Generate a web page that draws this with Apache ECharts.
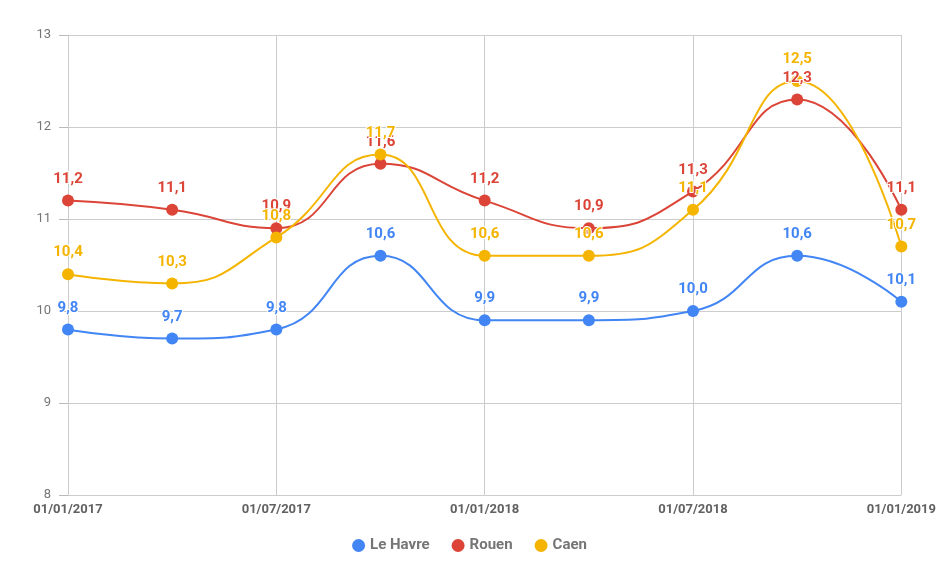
<!DOCTYPE html>
<html>
<head>
<meta charset="utf-8">
<style>html,body{margin:0;padding:0;background:#fff;}#c{width:939px;height:577px;}</style>
<script src="https://cdn.jsdelivr.net/npm/echarts@6/dist/echarts.min.js"></script>
</head>
<body>
<div id="c"></div>
<script>
var categories = ['01/01/2017','01/04/2017','01/07/2017','01/10/2017','01/01/2018','01/04/2018','01/07/2018','01/10/2018','01/01/2019'];
var leHavre = [9.8, 9.7, 9.8, 10.6, 9.9, 9.9, 10.0, 10.6, 10.1];
var rouen = [11.2, 11.1, 10.9, 11.6, 11.2, 10.9, 11.3, 12.3, 11.1];
var caen = [10.4, 10.3, 10.8, 11.7, 10.6, 10.6, 11.1, 12.5, 10.7];
var yTicks = [8, 9, 10, 11, 12, 13];

var chart = echarts.init(document.getElementById('c'));
function mk(name, data, color) {
  return {
    name: name, type: 'line', data: data, smooth: 0.5,
    symbol: 'circle', symbolSize: 12,
    lineStyle: {width: 2, color: color},
    itemStyle: {color: color},
    label: {
      show: true, position: 'top', distance: 8,
      color: color, fontFamily: 'Roboto', fontSize: 15, fontWeight: 'bold',
      textBorderColor: '#fff', textBorderWidth: 2,
      formatter: function (p) { return p.value.toFixed(1).replace('.', ','); }
    },
    emphasis: {disabled: true}
  };
}
chart.setOption({
  animation: false,
  color: ['#4285F4', '#DB4437', '#F4B400'],
  grid: {left: 68, right: 36, top: 35, bottom: 82, containLabel: false},
  legend: {
    bottom: 19, icon: 'circle', itemWidth: 13, itemHeight: 13, itemGap: 22,
    textStyle: {color: '#757575', fontFamily: 'Roboto', fontSize: 15, fontWeight: 'bold'},
    data: ['Le Havre', 'Rouen', 'Caen']
  },
  xAxis: {
    type: 'category', data: categories, boundaryGap: false,
    axisLine: {show: false}, axisTick: {show: false},
    axisLabel: {interval: 1, color: '#616161', fontFamily: 'Roboto', fontSize: 13, fontWeight: 'bold', margin: 8},
    splitLine: {show: true, interval: 1, lineStyle: {color: '#cccccc', width: 1}}
  },
  yAxis: {
    type: 'value', min: yTicks[0], max: yTicks[yTicks.length - 1], interval: 1,
    axisLine: {show: true, lineStyle: {color: '#cccccc', width: 1}},
    axisTick: {show: true, inside: false, length: 9, lineStyle: {color: '#bbbbbb', width: 1}},
    axisLabel: {color: '#757575', fontFamily: 'Roboto', fontSize: 13, margin: 17},
    splitLine: {show: true, lineStyle: {color: '#cccccc', width: 1}}
  },
  series: [mk('Le Havre', leHavre, '#4285F4'), mk('Rouen', rouen, '#DB4437'), mk('Caen', caen, '#F4B400')]
});
</script>
</body>
</html>
